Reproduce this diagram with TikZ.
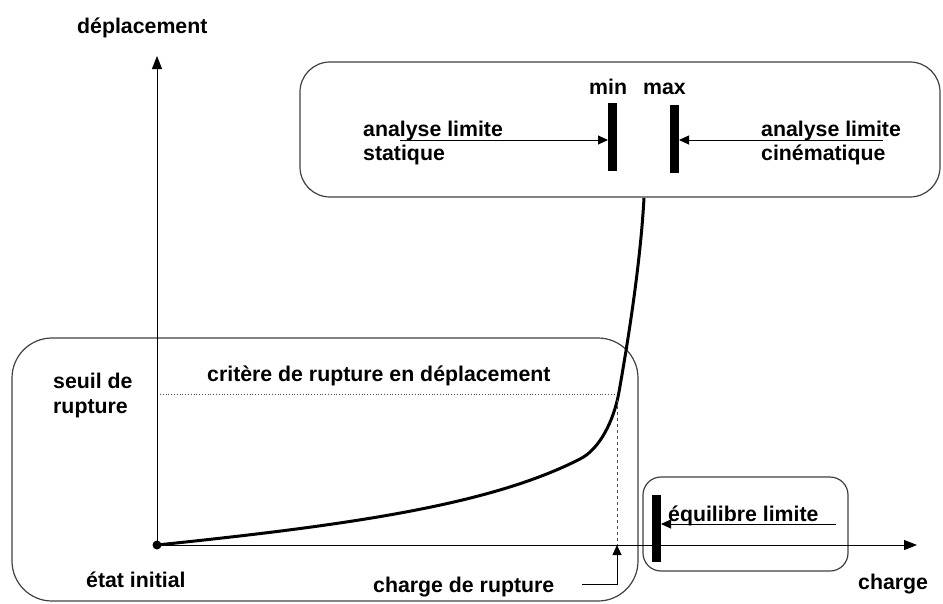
\documentclass[tikz,border=0pt]{standalone}
\usepackage{fontspec}
\setmainfont{Liberation Sans}
\usetikzlibrary{arrows.meta}
\tikzset{
  lbl/.style={font=\bfseries\fontsize{21.3}{24}\selectfont, inner sep=0pt, anchor=base west},
  frame/.style={draw=black!75, line width=1.2pt, rounded corners=#1},
  bar/.style={line width=9pt},
  axis/.style={line width=1pt, -{Triangle[length=13pt,width=10pt]}},
  thin arrow/.style={line width=0.9pt, -{Triangle[length=10pt,width=9pt]}},
}
\begin{document}
\begin{tikzpicture}[x=1pt,y=-1pt]
\useasboundingbox (0,0) rectangle (943,603);
% frames
\draw[frame=30pt] (300,62) rectangle (940,197);
\draw[frame=40pt] (12,338) rectangle (638,601);
\draw[frame=18pt] (643,477) rectangle (848,571);
% axes
\coordinate (O) at (157,545);
\coordinate (Ytop) at (157,56);
\coordinate (Xend) at (917,545);
\draw[axis] (O) -- (Ytop);
\draw[axis] (O) -- (Xend);
\fill (O) circle (4.5pt);
\node[lbl] (ylab) at (77,33) {déplacement};
\node[lbl] (xlab) at (858,589) {charge};
% curve
\coordinate (P1) at (580,459);
\coordinate (P2) at (619,392);
\coordinate (P3) at (644,198);
\draw[line width=3pt, line join=round] (O)
  .. controls (350,525) and (490,505) .. (P1)
  .. controls (600,449) and (614,420) .. (P2)
  .. controls (626,352) and (640,270) .. (P3);
% threshold
\coordinate (S) at (160,394);
\coordinate (Se) at (616,394);
\draw[dotted, line width=0.8pt, black!70] (S) -- (Se);
\coordinate (R) at (617,400);
\coordinate (Ra) at (617,545);
\draw[dashed, line width=0.8pt, black!70] (R) -- (Ra);
\node[lbl] (seuil) at (53,388) {seuil de};
\node[lbl] (seuil2) at (53,413) {rupture};
\node[lbl] (crit) at (207,381) {critère de rupture en déplacement};
\node[lbl] (init) at (86,587) {état initial};
\node[lbl] (chr) at (373,592) {charge de rupture};
\coordinate (C1) at (582,584);
\coordinate (C2) at (617,584);
\draw[thin arrow] (C1) -- (C2) -- (Ra);
% top box content
\node[lbl] (min) at (589,94) {min};
\node[lbl] (max) at (643,94) {max};
\coordinate (b1t) at (612.5,103); \coordinate (b1b) at (612.5,171);
\coordinate (b2t) at (674.5,105); \coordinate (b2b) at (674.5,173);
\draw[bar] (b1t) -- (b1b);
\draw[bar] (b2t) -- (b2b);
\coordinate (a1s) at (400,140); \coordinate (a1e) at (608,140);
\coordinate (a2s) at (883,140); \coordinate (a2e) at (679,140);
\draw[thin arrow] (a1s) -- (a1e);
\draw[thin arrow] (a2s) -- (a2e);
\node[lbl] (stat) at (363,136) {analyse limite};
\node[lbl] (stat2) at (363,160) {statique};
\node[lbl] (cine) at (761,136) {analyse limite};
\node[lbl] (cine2) at (761,160) {cinématique};
% equilibre limite
\coordinate (b3t) at (656,495); \coordinate (b3b) at (656,562);
\draw[bar] (b3t) -- (b3b);
\coordinate (a3s) at (836,524); \coordinate (a3e) at (661,524);
\draw[thin arrow] (a3s) -- (a3e);
\node[lbl] (eq) at (668,521) {équilibre limite};
\end{tikzpicture}
\end{document}
